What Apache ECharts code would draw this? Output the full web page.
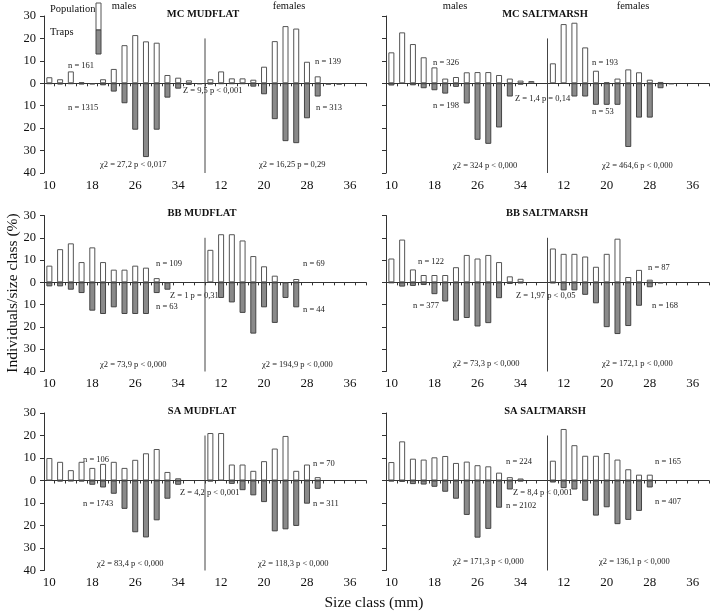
<!DOCTYPE html>
<html><head><meta charset="utf-8">
<script src="https://cdn.jsdelivr.net/npm/echarts@6/dist/echarts.min.js"></script>
<style>html,body{margin:0;padding:0;background:#fff}#c{width:710px;height:611px}</style>
</head><body><div id="c"></div>
<script>
// ---- data ----
const sizeClasses = ['10','12','14','16','18','20','22','24','26','28','30','32','34','36','38'];
const panelTitles = ['MC MUDFLAT','MC SALTMARSH','BB MUDFLAT','BB SALTMARSH','SA MUDFLAT','SA SALTMARSH'];
const sexLabels = ['males','females'];
const legendLabels = ['Population','Traps'];
const yTicks = [30,20,10,0,-10,-20,-30,-40];
const dividerTop = 20;

// MC MUDFLAT
const mcMudMalePop   = [2.7,1.8,5.3,0.5,null,1.8,6.4,17.0,21.5,18.7,18.1,3.7,2.5,1.3,null];
const mcMudMaleTrap  = [0.3,0.5,0.3,0.5,0.5,0.9,3.7,8.9,20.7,32.9,20.7,6.4,2.4,0.7,0.4];
const mcMudFemPop    = [1.8,5.3,2.2,2.2,1.6,7.4,18.8,25.5,24.4,9.6,3.1,null,null,null,null];
const mcMudFemTrap   = [0.5,0.3,0.3,0.3,1.5,4.9,16.0,25.8,26.7,15.6,5.9,0.6,0.6,null,null];
// MC SALTMARSH
const mcSaltMalePop  = [13.8,22.7,17.5,11.6,7.1,2.1,2.8,4.9,5.0,5.0,3.7,2.1,1.2,1.0,null];
const mcSaltMaleTrap = [1.0,null,0.9,2.2,3.1,4.6,1.6,9.0,25.2,27.0,19.7,5.9,0.6,null,null];
const mcSaltFemPop   = [8.9,26.4,27.0,16.0,5.6,0.5,2.1,6.2,4.9,1.6,0.6,null,null,null,null];
const mcSaltFemTrap  = [null,null,5.9,5.9,9.6,9.6,9.6,28.4,15.3,15.3,2.2,0.4,null,null,null];
// BB MUDFLAT
const bbMudMalePop   = [7.5,14.9,17.5,9.1,15.7,9.1,5.7,5.7,7.5,6.6,1.9,null,null,null,null];
const bbMudMaleTrap  = [1.8,1.8,3.3,4.8,12.7,14.2,11.2,14.2,14.2,14.2,4.8,3.3,null,null,null];
const bbMudFemPop    = [14.6,21.6,21.6,18.8,11.8,7.2,3.0,null,1.5,null,null,null,null,null,null];
const bbMudFemTrap   = [null,7.0,9.0,13.7,23.0,11.2,18.2,7.0,11.2,null,null,null,null,null,null];
// BB SALTMARSH
const bbSaltMalePop  = [10.7,19.2,5.8,3.3,3.3,3.3,6.8,12.3,10.7,12.3,9.1,2.7,1.6,null,null];
const bbSaltMaleTrap = [0.3,1.9,1.6,1.2,5.3,8.6,17.2,16.0,19.8,18.3,7.1,0.7,0.4,null,null];
const bbSaltFemPop   = [15.2,12.8,12.8,11.6,7.0,12.8,19.6,2.4,5.6,1.2,null,null,null,null,null];
const bbSaltFemTrap  = [0.4,3.6,3.6,5.6,9.4,20.1,23.2,19.6,10.5,2.2,0.4,null,null,null,null];
// SA MUDFLAT
const saMudMalePop   = [10.0,8.3,4.6,8.3,5.6,7.4,8.3,5.6,9.2,12.1,14.0,3.8,1.0,null,null];
const saMudMaleTrap  = [null,0.4,0.3,0.4,1.9,3.1,5.9,12.6,23.0,25.3,17.7,8.1,1.9,null,null];
const saMudFemPop    = [21.1,21.1,7.1,7.1,4.3,8.6,14.2,19.8,4.3,7.1,1.5,null,null,null,null];
const saMudFemTrap   = [0.4,null,1.5,4.3,6.6,9.6,22.6,21.7,20.2,10.3,3.7,null,null,null,null];
// SA SALTMARSH
const saSaltMalePop  = [8.2,17.4,9.7,9.3,10.3,10.9,7.8,8.4,6.8,6.3,3.5,1.5,0.9,null,null];
const saSaltMaleTrap = [0.4,0.6,1.6,1.8,2.8,5.0,8.1,15.3,25.4,21.5,12.1,4.0,0.4,null,null];
const saSaltFemPop   = [8.8,22.9,15.7,11.0,11.0,12.2,9.3,5.0,2.6,2.6,null,null,null,null,null];
const saSaltFemTrap  = [0.9,3.4,4.0,9.0,15.6,11.9,19.4,17.5,13.5,3.1,null,null,null,null,null];

// annotation texts (per panel)
const panelNotes = [
  ['n = 161','n = 1315','Z = 9,5 p < 0,001','χ2 = 27,2 p < 0,017','n = 139','n = 313','χ2 = 16,25 p = 0,29'],
  ['n = 326','n = 198','Z = 1,4 p = 0,14','χ2 = 324 p < 0,000','n = 193','n = 53','χ2 = 464,6 p < 0,000'],
  ['n = 109','n = 63','Z = 1 p = 0,31','χ2 = 73,9 p < 0,000','n = 69','n = 44','χ2 = 194,9 p < 0,000'],
  ['n = 122','n = 377','Z = 1,97 p < 0,05','χ2 = 73,3 p < 0,000','n = 87','n = 168','χ2 = 172,1 p < 0,000'],
  ['n = 106','n = 1743','Z = 4,2 p < 0,001','χ2 = 83,4 p < 0,000','n = 70','n = 311','χ2 = 118,3 p < 0,000'],
  ['n = 224','n = 2102','Z = 8,4 p < 0,001','χ2 = 171,3 p < 0,000','n = 165','n = 407','χ2 = 136,1 p < 0,000']
];
const yAxisTitle = 'Individuals/size class (%)';
const xAxisTitle = 'Size class (mm)';

// ---- layout ----
const pops = [
  mcMudMalePop.concat(mcMudFemPop), mcSaltMalePop.concat(mcSaltFemPop),
  bbMudMalePop.concat(bbMudFemPop), bbSaltMalePop.concat(bbSaltFemPop),
  saMudMalePop.concat(saMudFemPop), saSaltMalePop.concat(saSaltFemPop)
];
const traps = [
  mcMudMaleTrap.concat(mcMudFemTrap), mcSaltMaleTrap.concat(mcSaltFemTrap),
  bbMudMaleTrap.concat(bbMudFemTrap), bbSaltMaleTrap.concat(bbSaltFemTrap),
  saMudMaleTrap.concat(saMudFemTrap), saSaltMaleTrap.concat(saSaltFemTrap)
];
const categories = sizeClasses.concat(sizeClasses);
const FONT = '"Liberation Serif", "Times New Roman", serif';
const colLeft = [44, 386];
const colWidth = [322, 323];
const rowTop = [16, 215.5, 413];
const rowHeight = [157, 156, 157.5];
const notePos = [
  [[68,66],[68,108],[183,91],[100,165],[315,62],[316,108],[259,165]],
  [[433,63],[433,106],[515,99],[453,166],[592,63],[592,112],[602,166]],
  [[156,264],[156,307],[170,296],[100,365],[303,264],[303,310],[262,365]],
  [[418,262],[413,306],[516,296],[453,364],[648,268],[652,306],[602,364]],
  [[83,460],[83,504],[180,493],[97,564],[313,464],[313,504],[258,564]],
  [[506,462],[506,506],[513,493],[453,562],[655,462],[655,502],[599,562]]
];
const titlePos = [[203,14],[545,14],[202,213],[547,213],[202,411],[545,411]];
const sexPos = [[124,6],[289,6],[455,6],[633,6]];

const grids = [], xAxes = [], yAxes = [], series = [], graphics = [];
for (let i = 0; i < 6; i++) {
  const c = i % 2, r = Math.floor(i / 2);
  grids.push({left: colLeft[c], top: rowTop[r], width: colWidth[c], height: rowHeight[r]});
  xAxes.push({
    type: 'category', gridIndex: i, data: categories,
    axisLine: {lineStyle: {color: '#333', width: 1}},
    axisTick: {show: true, interval: 0, length: 3, lineStyle: {color: '#333'}},
    axisLabel: {interval: 3, color: '#111', fontFamily: FONT, fontSize: 13, margin: 6},
    splitLine: {show: false}
  });
  xAxes.push({type: 'value', gridIndex: i, min: 0, max: 30, show: false});
  yAxes.push({
    type: 'value', gridIndex: i, min: -40, max: 30, interval: 10,
    axisLine: {show: true, lineStyle: {color: '#333', width: 1}},
    axisTick: {show: true, length: 4, lineStyle: {color: '#333'}},
    axisLabel: {show: c === 0, color: '#111', fontFamily: FONT, fontSize: 12.5, margin: 8,
      formatter: v => String(Math.abs(v))},
    splitLine: {show: false}
  });
  series.push({
    type: 'bar', xAxisIndex: 2*i, yAxisIndex: i, stack: 's' + i, barWidth: 6,
    data: pops[i], itemStyle: {color: '#ffffff', borderColor: '#555', borderWidth: 1},
    animation: false, silent: true
  });
  series.push({
    type: 'bar', xAxisIndex: 2*i, yAxisIndex: i, stack: 's' + i, barWidth: 6,
    data: traps[i].map(v => v == null ? null : -v),
    itemStyle: {color: '#8a8a8a', borderColor: '#444', borderWidth: 1},
    animation: false, silent: true
  });
  series.push({
    type: 'line', xAxisIndex: 2*i+1, yAxisIndex: i, symbol: 'none',
    data: [[15, dividerTop], [15, yTicks[yTicks.length-1]]],
    lineStyle: {color: '#444', width: 1}, animation: false, silent: true
  });
  // title
  graphics.push({type: 'text', x: titlePos[i][0], y: titlePos[i][1],
    style: {text: panelTitles[i], font: 'bold 10.5px ' + FONT, fill: '#111', textAlign: 'center', textVerticalAlign: 'middle'}});
  panelNotes[i].forEach((t, k) => {
    graphics.push({type: 'text', x: notePos[i][k][0], y: notePos[i][k][1],
      style: {text: t, font: '8.5px ' + FONT, fill: '#222', textAlign: 'left', textVerticalAlign: 'middle'}});
  });
}
sexPos.forEach((p, k) => {
  graphics.push({type: 'text', x: p[0], y: p[1],
    style: {text: sexLabels[k % 2], font: '10.5px ' + FONT, fill: '#111', textAlign: 'center', textVerticalAlign: 'middle'}});
});
// legend
graphics.push({type: 'text', x: 50, y: 9, style: {text: legendLabels[0], font: '10.5px ' + FONT, fill: '#111', textVerticalAlign: 'middle'}});
graphics.push({type: 'text', x: 50, y: 32, style: {text: legendLabels[1], font: '10.5px ' + FONT, fill: '#111', textVerticalAlign: 'middle'}});
graphics.push({type: 'rect', shape: {x: 96, y: 3, width: 5, height: 27}, style: {fill: '#fff', stroke: '#555', lineWidth: 1}});
graphics.push({type: 'rect', shape: {x: 96, y: 30, width: 5, height: 24}, style: {fill: '#8a8a8a', stroke: '#444', lineWidth: 1}});
// axis titles
graphics.push({type: 'text', x: 13, y: 293, rotation: Math.PI/2,
  style: {text: yAxisTitle, font: '15.5px ' + FONT, fill: '#111', textAlign: 'center', textVerticalAlign: 'middle'}});
graphics.push({type: 'text', x: 374, y: 603,
  style: {text: xAxisTitle, font: '15.5px ' + FONT, fill: '#111', textAlign: 'center', textVerticalAlign: 'middle'}});

const chart = echarts.init(document.getElementById('c'), null, {renderer: 'canvas'});
chart.setOption({
  backgroundColor: '#fff', animation: false,
  grid: grids, xAxis: xAxes, yAxis: yAxes, series: series, graphic: graphics
});
</script></body></html>
